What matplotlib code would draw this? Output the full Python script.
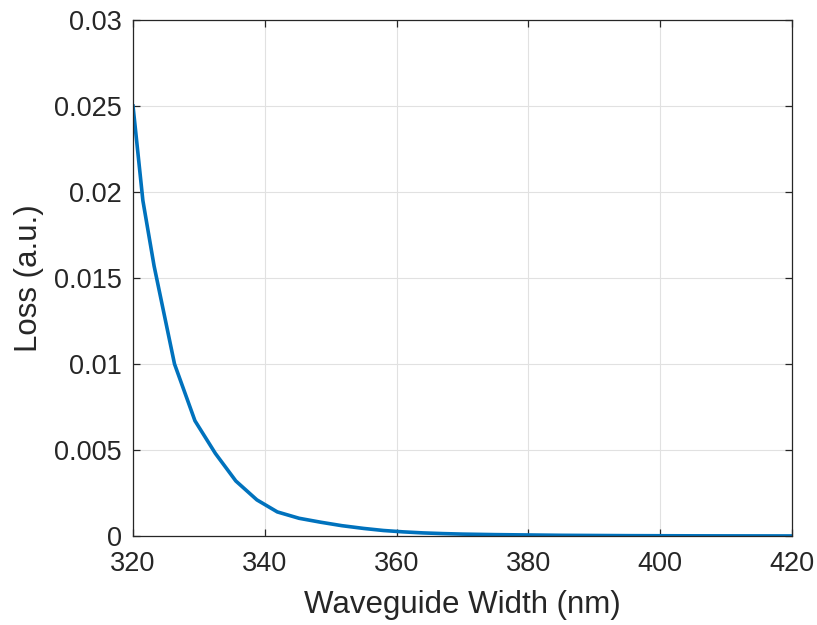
import matplotlib
matplotlib.use("Agg")
import matplotlib.pyplot as plt
from matplotlib.ticker import FixedLocator

# waveguide width sweep (nm) and propagation loss
width_nm = [320, 321.5, 323.2, 326.3, 329.4, 332.5, 335.6, 338.8, 341.9, 345.2,
            348.5, 351.7, 355, 358, 361, 364, 367, 370, 375, 380,
            385, 390, 395, 400, 405, 410, 415, 420]
loss = [0.0250, 0.0195, 0.0157, 0.0100, 0.0067, 0.0048, 0.0032, 0.0021, 0.0014, 0.00103,
        0.00080, 0.00060, 0.00044, 0.00032, 0.00024, 0.00018, 0.00014, 0.00011, 0.00008, 0.00006,
        0.00004, 0.00003, 0.00002, 0.000015, 0.00001, 0.000007, 0.000005, 0.000003]

xticks = [320, 340, 360, 380, 400, 420]
yticks = [0, 0.005, 0.01, 0.015, 0.02, 0.025, 0.03]
ytick_labels = ["0", "0.005", "0.01", "0.015", "0.02", "0.025", "0.03"]

plt.rcParams['font.family'] = ['Liberation Sans', 'DejaVu Sans']
text_col = '#262626'

fig = plt.figure(figsize=(8.17, 6.25), dpi=100)
ax = fig.add_axes([133 / 817, 1 - 536 / 625, (792 - 133) / 817, (536 - 20) / 625])

ax.plot(width_nm, loss, color='#0072BD', linewidth=2.6, solid_joinstyle='miter')

ax.set_xlim(320, 420)
ax.set_ylim(0, 0.03)
ax.xaxis.set_major_locator(FixedLocator(xticks))
ax.set_yticks(yticks)
ax.set_yticklabels(ytick_labels)

ax.grid(True, color='#e1e1e1', linewidth=0.8)
ax.set_axisbelow(True)
for s in ax.spines.values():
    s.set_color(text_col)
    s.set_linewidth(0.9)
ax.tick_params(direction='in', length=5, width=0.9, colors=text_col,
               labelsize=19.5, top=True, right=True)
ax.tick_params(axis='x', pad=11)
ax.tick_params(axis='y', pad=8)

ax.set_xlabel("Waveguide Width (nm)", fontsize=22.5, color=text_col, labelpad=9)
ax.set_ylabel("Loss (a.u.)", fontsize=22.5, color=text_col, labelpad=7)

fig.savefig("out.png", dpi=100)
